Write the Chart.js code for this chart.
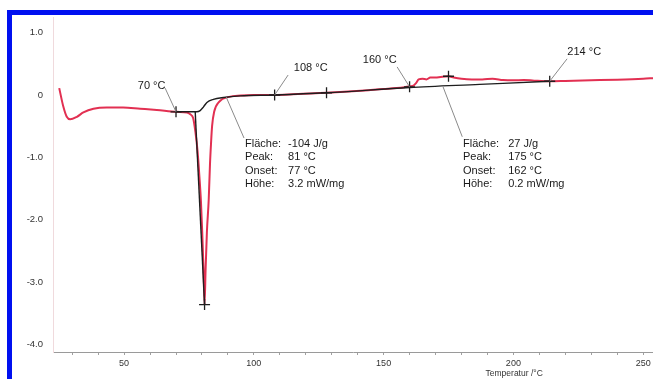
<!DOCTYPE html>
<html>
<head>
<meta charset="utf-8">
<script src="https://cdn.jsdelivr.net/npm/chart.js@4/dist/chart.umd.min.js"></script>
<style>
  html, body { margin: 0; padding: 0; background: #fff; width: 653px; height: 379px; overflow: hidden; }
  #frame { position: absolute; left: 7px; top: 10px; width: 700px; height: 420px;
           border-top: 5px solid #0010f0; border-left: 5px solid #0010f0; background: #fff; }
  #wrap { position: absolute; left: 12px; top: 15px; width: 641px; height: 364px; }
</style>
</head>
<body>
<div id="frame"></div>
<div id="wrap"><canvas id="c" width="641" height="364"></canvas></div>
<script>
// ---------------- data ----------------
const redTemp = [25.0, 26.6, 27.9, 29.2, 31.8, 34.3, 38.2, 43.3, 49.6, 56.2, 62.6, 70.3, 74.2, 75.5, 76.6, 77.5, 78.3, 79.0, 79.6, 80.1, 80.6, 81.0,
  81.4, 81.9, 82.6, 83.1, 83.5, 83.9, 84.7, 86.6, 90.5, 95, 100, 108, 115, 122, 130, 138, 145, 150, 155, 158, 160,
  161.5, 162.5, 163.5, 165, 166.5, 168, 170, 172, 175, 177, 180, 184, 188, 192, 196, 200, 204, 208, 214, 220, 230, 240, 250, 254];
const redDsc = [0.11, -0.19, -0.35, -0.39, -0.35, -0.28, -0.22, -0.20, -0.20, -0.22, -0.24, -0.27, -0.28, -0.31, -0.37, -0.6, -0.9, -1.3, -1.7, -2.2, -2.8, -3.36,
  -2.8, -2.2, -1.68, -1.1, -0.77, -0.5, -0.27, -0.11, -0.03, -0.01, 0.0, 0.0, 0.01, 0.025, 0.04, 0.06, 0.08, 0.095, 0.11, 0.125, 0.14,
  0.15, 0.19, 0.25, 0.26, 0.25, 0.28, 0.28, 0.29, 0.30, 0.28, 0.26, 0.25, 0.25, 0.26, 0.24, 0.235, 0.24, 0.23, 0.22, 0.225, 0.235, 0.245, 0.26, 0.27];

const baseTemp = [70, 78, 79.3, 80.6, 81.9, 84.4, 88.3, 94.7, 108, 128, 160, 187, 214];
const baseDsc  = [-0.27, -0.27, -0.25, -0.19, -0.12, -0.07, -0.04, -0.015, 0.0, 0.035, 0.12, 0.17, 0.22];

const tangentTemp = [77.4, 81.0];
const tangentDsc  = [-0.27, -3.36];

const markerTemp = [70, 81, 108, 128, 160, 175, 214];
const markerDsc  = [-0.27, -3.36, 0.0, 0.035, 0.13, 0.30, 0.22];

const xTickValues = [30, 40, 50, 60, 70, 80, 90, 100, 110, 120, 130, 140, 150, 160, 170, 180, 190, 200, 210, 220, 230, 240, 250];
const xTickLabels = [50, 100, 150, 200, 250];
const yTickValues = [1, 0, -1, -2, -3, -4];
const yTickLabels = ['1.0', '0', '-1.0', '-2.0', '-3.0', '-4.0'];
const xTitle = 'Temperatur /°C';

const pointLabels = ['70 °C', '108 °C', '160 °C', '214 °C'];
const pointLabelMarker = [0, 2, 4, 6];
const blockKeys = ['Fläche:', 'Peak:', 'Onset:', 'Höhe:'];
const block1Values = ['-104 J/g', '81 °C', '77 °C', '3.2 mW/mg'];
const block2Values = ['27 J/g', '175 °C', '162 °C', '0.2 mW/mg'];

// ---------------- layout of annotations (data units) ----------------
const pointLabelPos = [
  { tx: 60.6, ty: 0.15, lx: 65.8, ly: 0.11 },
  { tx: 121.9, ty: 0.43, lx: 113.2, ly: 0.32 },
  { tx: 148.5, ty: 0.56, lx: 155.2, ly: 0.45 },
  { tx: 227.3, ty: 0.69, lx: 220.7, ly: 0.58 }
];
const blockPos = [
  { kx: 96.6, vx: 113.2, lx1: 96.2, ly1: -0.69, lx2: 89.3, ly2: -0.03 },
  { kx: 180.6, vx: 198.0, lx1: 180.3, ly1: -0.67, lx2: 172.9, ly2: 0.13 }
];
const blockLineY = [-0.785, -1.0, -1.215, -1.43];

const zip = (xs, ys) => xs.map((x, i) => ({ x: x, y: ys[i] }));
const FONT = '"Liberation Sans", Arial, sans-serif';

const annotate = {
  id: 'annotate',
  afterDatasetsDraw(chart) {
    const ctx = chart.ctx, xs = chart.scales.x, ys = chart.scales.y;
    const px = v => xs.getPixelForValue(v), py = v => ys.getPixelForValue(v);
    ctx.save();
    ctx.strokeStyle = '#8a8a8a';
    ctx.lineWidth = 1;
    ctx.fillStyle = '#1a1a1a';
    ctx.font = '11px ' + FONT;
    ctx.textBaseline = 'middle';
    pointLabels.forEach((t, i) => {
      const p = pointLabelPos[i], m = pointLabelMarker[i];
      ctx.beginPath();
      ctx.moveTo(px(p.lx), py(p.ly));
      ctx.lineTo(px(markerTemp[m]), py(markerDsc[m]));
      ctx.stroke();
      ctx.textAlign = 'center';
      ctx.fillText(t, px(p.tx), py(p.ty));
    });
    [block1Values, block2Values].forEach((vals, b) => {
      const p = blockPos[b];
      ctx.beginPath();
      ctx.moveTo(px(p.lx1), py(p.ly1));
      ctx.lineTo(px(p.lx2), py(p.ly2));
      ctx.stroke();
      ctx.textAlign = 'left';
      blockKeys.forEach((k, i) => {
        ctx.fillText(k, px(p.kx), py(blockLineY[i]));
        ctx.fillText(vals[i], px(p.vx), py(blockLineY[i]));
      });
    });
    ctx.font = '8.5px ' + FONT;
    ctx.fillStyle = '#333';
    ctx.textAlign = 'center';
    ctx.fillText(xTitle, px(200.3), chart.chartArea.bottom + 21.5);
    ctx.restore();
  }
};

new Chart(document.getElementById('c'), {
  type: 'scatter',
  data: {
    datasets: [
      { data: zip(redTemp, redDsc), showLine: true, borderColor: 'rgb(226,48,82)', borderWidth: 2,
        pointRadius: 0, cubicInterpolationMode: 'monotone', order: 3 },
      { data: zip(baseTemp, baseDsc), showLine: true, borderColor: '#1e1e1e', borderWidth: 1.4,
        pointRadius: 0, cubicInterpolationMode: 'monotone', order: 2 },
      { data: zip(tangentTemp, tangentDsc), showLine: true, borderColor: '#1e1e1e', borderWidth: 1.4,
        pointRadius: 0, order: 2 },
      { data: zip(markerTemp, markerDsc), showLine: false, pointStyle: 'cross', pointRadius: 5.5,
        borderColor: '#1e1e1e', borderWidth: 1.3, backgroundColor: '#1e1e1e', order: 1 }
    ]
  },
  options: {
    responsive: false,
    animation: false,
    layout: { autoPadding: false, padding: { top: 2, right: 0, left: 0, bottom: 0 } },
    plugins: { legend: { display: false }, tooltip: { enabled: false } },
    scales: {
      x: {
        type: 'linear', min: 22.6, max: 253.8,
        afterBuildTicks: s => { s.ticks = xTickValues.map(v => ({ value: v })); },
        afterFit: s => { s.height = 27; s.paddingLeft = 0; s.paddingRight = 0; },
        ticks: {
          autoSkip: false, maxRotation: 0, padding: 3, color: '#333',
          font: { family: FONT, size: 9 },
          callback: v => xTickLabels.includes(v) ? String(v) : ''
        },
        grid: { drawOnChartArea: false, drawTicks: true, tickLength: 3, color: '#a0a0a0' },
        border: { display: true, color: '#9a9a9a', width: 1 }
      },
      y: {
        type: 'linear', min: -4.12, max: 1.25,
        afterBuildTicks: s => { s.ticks = yTickValues.map(v => ({ value: v })); },
        afterFit: s => { s.width = 41; s.paddingTop = 0; s.paddingBottom = 0; },
        ticks: {
          padding: 10, color: '#333',
          font: { family: FONT, size: 9.5 },
          callback: v => yTickLabels[yTickValues.indexOf(v)]
        },
        grid: { drawOnChartArea: false, drawTicks: false },
        border: { display: true, color: '#f0dadd', width: 1 }
      }
    }
  },
  plugins: [annotate]
});
</script>
</body>
</html>
